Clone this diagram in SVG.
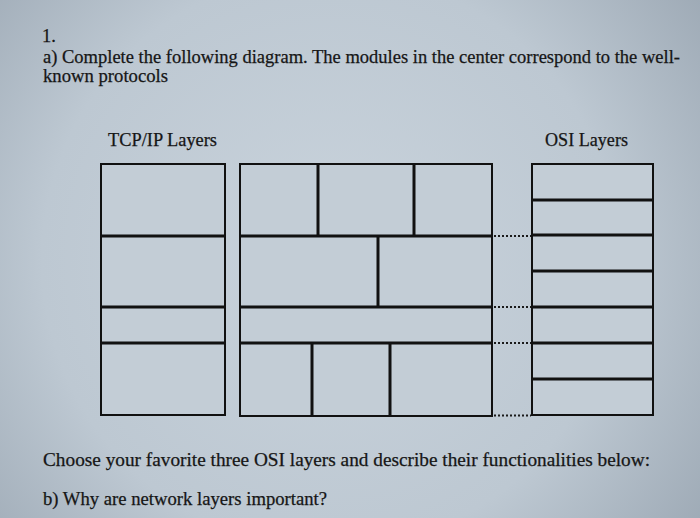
<svg xmlns="http://www.w3.org/2000/svg" width="700" height="518" viewBox="0 0 700 518">
<defs>
<radialGradient id="bg" cx="330" cy="260" r="480" gradientUnits="userSpaceOnUse">
<stop offset="0" stop-color="#c9d3dc"/>
<stop offset="0.6" stop-color="#bdc8d2"/>
<stop offset="1" stop-color="#9aa6b2"/>
</radialGradient>
<style>
.t{font-family:"Liberation Serif","Times New Roman",serif;fill:#161616;stroke:#161616;stroke-width:0.25;font-size:18.5px}
.cell{fill:#c3cdd6;stroke:#111;stroke-width:2}
.div{stroke:#111;stroke-width:3;fill:none}
.conn{stroke:#1a1a1a;stroke-width:2;stroke-dasharray:2 2;fill:none}
</style>
</defs>
<rect width="700" height="518" fill="url(#bg)"/>
<text class="t" x="42" y="42">1.</text>
<text class="t" x="43" y="63" textLength="637" lengthAdjust="spacingAndGlyphs">a) Complete the following diagram. The modules in the center correspond to the well-</text>
<text class="t" x="43" y="82" textLength="125" lengthAdjust="spacingAndGlyphs">known protocols</text>
<text class="t" x="108" y="146" textLength="109" lengthAdjust="spacingAndGlyphs">TCP/IP Layers</text>
<text class="t" x="545" y="146" textLength="83" lengthAdjust="spacingAndGlyphs">OSI Layers</text>

<g id="tcpip">
<rect class="cell" x="101" y="164" width="124" height="251"/>
<line class="div" x1="101" y1="236" x2="225" y2="236"/>
<line class="div" x1="101" y1="307" x2="225" y2="307"/>
<line class="div" x1="101" y1="343" x2="225" y2="343"/>
</g>

<g id="modules">
<rect class="cell" x="240" y="164" width="252" height="252"/>
<line class="div" x1="240" y1="236" x2="492" y2="236"/>
<line class="div" x1="240" y1="307" x2="492" y2="307"/>
<line class="div" x1="240" y1="343" x2="492" y2="343"/>
<line class="div" x1="318" y1="164" x2="318" y2="236"/>
<line class="div" x1="414" y1="164" x2="414" y2="236"/>
<line class="div" x1="378" y1="236" x2="378" y2="307"/>
<line class="div" x1="312" y1="343" x2="312" y2="416"/>
<line class="div" x1="390" y1="343" x2="390" y2="416"/>
</g>

<g id="osi">
<rect class="cell" x="532" y="164" width="121" height="251"/>
<line class="div" x1="532" y1="200" x2="653" y2="200"/>
<line class="div" x1="532" y1="235" x2="653" y2="235"/>
<line class="div" x1="532" y1="271" x2="653" y2="271"/>
<line class="div" x1="532" y1="307" x2="653" y2="307"/>
<line class="div" x1="532" y1="343" x2="653" y2="343"/>
<line class="div" x1="532" y1="379" x2="653" y2="379"/>
</g>

<g id="connectors">
<line class="conn" x1="494" y1="236" x2="531" y2="236"/>
<line class="conn" x1="494" y1="307" x2="531" y2="307"/>
<line class="conn" x1="494" y1="343" x2="531" y2="343"/>
<line class="conn" x1="494" y1="415.5" x2="531" y2="415.5"/>
</g>

<text class="t" x="43" y="466" textLength="607" lengthAdjust="spacingAndGlyphs">Choose your favorite three OSI layers and describe their functionalities below:</text>
<text class="t" x="43" y="505" textLength="284" lengthAdjust="spacingAndGlyphs">b) Why are network layers important?</text>
</svg>
